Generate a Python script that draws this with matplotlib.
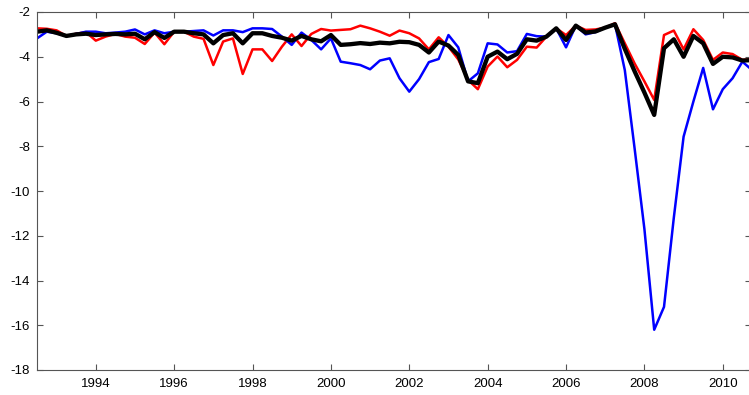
import numpy as np
import matplotlib.pyplot as plt

plt.rcParams['font.family'] = ['Liberation Sans', 'DejaVu Sans']
plt.rcParams['axes.unicode_minus'] = False

# quarterly dates, 1992Q3 .. 2010Q4
years = 1992.5 + 0.25 * np.arange(74)

red = [-2.73, -2.75, -2.82, -3.07, -2.97, -2.9, -3.28, -3.1, -2.98, -3.1,
       -3.15, -3.43, -2.92, -3.44, -2.88, -2.88, -3.1, -3.2, -4.37, -3.32,
       -3.18, -4.77, -3.67, -3.67, -4.19, -3.55, -3.0, -3.52, -2.98, -2.76,
       -2.83, -2.8, -2.77, -2.61, -2.73, -2.88, -3.06, -2.83, -2.95, -3.18,
       -3.67, -3.13, -3.55, -4.12, -5.04, -5.45, -4.44, -3.99, -4.47, -4.14,
       -3.55, -3.59, -3.1, -2.73, -3.03, -2.61, -2.8, -2.78, -2.7, -2.5,
       -3.4, -4.3, -5.1, -5.93, -3.03, -2.83, -3.67, -2.77, -3.25, -4.14,
       -3.81, -3.88, -4.14, -4.1]

blue = [-3.18, -2.88, -2.95, -3.07, -2.98, -2.88, -2.88, -2.95, -2.92, -2.88,
        -2.78, -3.0, -2.82, -2.95, -2.88, -2.88, -2.85, -2.82, -3.05, -2.82,
        -2.82, -2.9, -2.73, -2.73, -2.76, -3.1, -3.47, -2.92, -3.25, -3.67,
        -3.18, -4.22, -4.29, -4.37, -4.56, -4.17, -4.07, -4.96, -5.56, -5.0,
        -4.24, -4.1, -3.03, -3.58, -5.1, -4.74, -3.4, -3.45, -3.81, -3.75,
        -2.98, -3.08, -3.1, -2.73, -3.58, -2.61, -3.0, -2.9, -2.7, -2.55,
        -4.6, -8.1, -11.7, -16.2, -15.18, -11.2, -7.57, -6.0, -4.5, -6.35,
        -5.45, -4.96, -4.22, -4.6]

black = [-2.88, -2.82, -2.93, -3.07, -3.0, -2.97, -3.03, -3.0, -2.98, -3.0,
         -2.97, -3.22, -2.9, -3.16, -2.88, -2.88, -2.95, -3.0, -3.4, -3.03,
         -2.95, -3.4, -2.95, -2.95, -3.07, -3.15, -3.28, -3.07, -3.22, -3.31,
         -3.03, -3.47, -3.44, -3.39, -3.43, -3.37, -3.4, -3.33, -3.35, -3.47,
         -3.81, -3.32, -3.5, -3.92, -5.1, -5.18, -4.0, -3.77, -4.11, -3.87,
         -3.22, -3.28, -3.1, -2.73, -3.25, -2.61, -2.92, -2.87, -2.7, -2.55,
         -3.65, -4.65, -5.6, -6.6, -3.62, -3.22, -4.0, -3.07, -3.4, -4.32,
         -4.0, -4.03, -4.17, -4.15]

xticks = list(range(1994, 2011, 2))
yticks = list(range(-18, -1, 2))

fig = plt.figure(figsize=(7.49, 3.95), dpi=100)
ax = fig.add_axes([37 / 749, 25 / 395, 714 / 749, 358 / 395])

ax.plot(years, red, color='#ff0000', lw=1.8)
ax.plot(years, blue, color='#0000ff', lw=1.8)
ax.plot(years, black, color='black', lw=3.1)

ax.set_xlim(1992.5, 2010.72)
ax.set_ylim(-18, -2)
ax.set_xticks(xticks)
ax.set_yticks(yticks)
ax.tick_params(direction='in', length=4, width=0.8, color='#555555',
               top=True, right=True, labelsize=9.5)
ax.tick_params(axis='x', pad=6)
ax.tick_params(axis='y', pad=5)
for s in ax.spines.values():
    s.set_color('#555555')
    s.set_linewidth(0.8)

fig.savefig('out.png', dpi=100)
